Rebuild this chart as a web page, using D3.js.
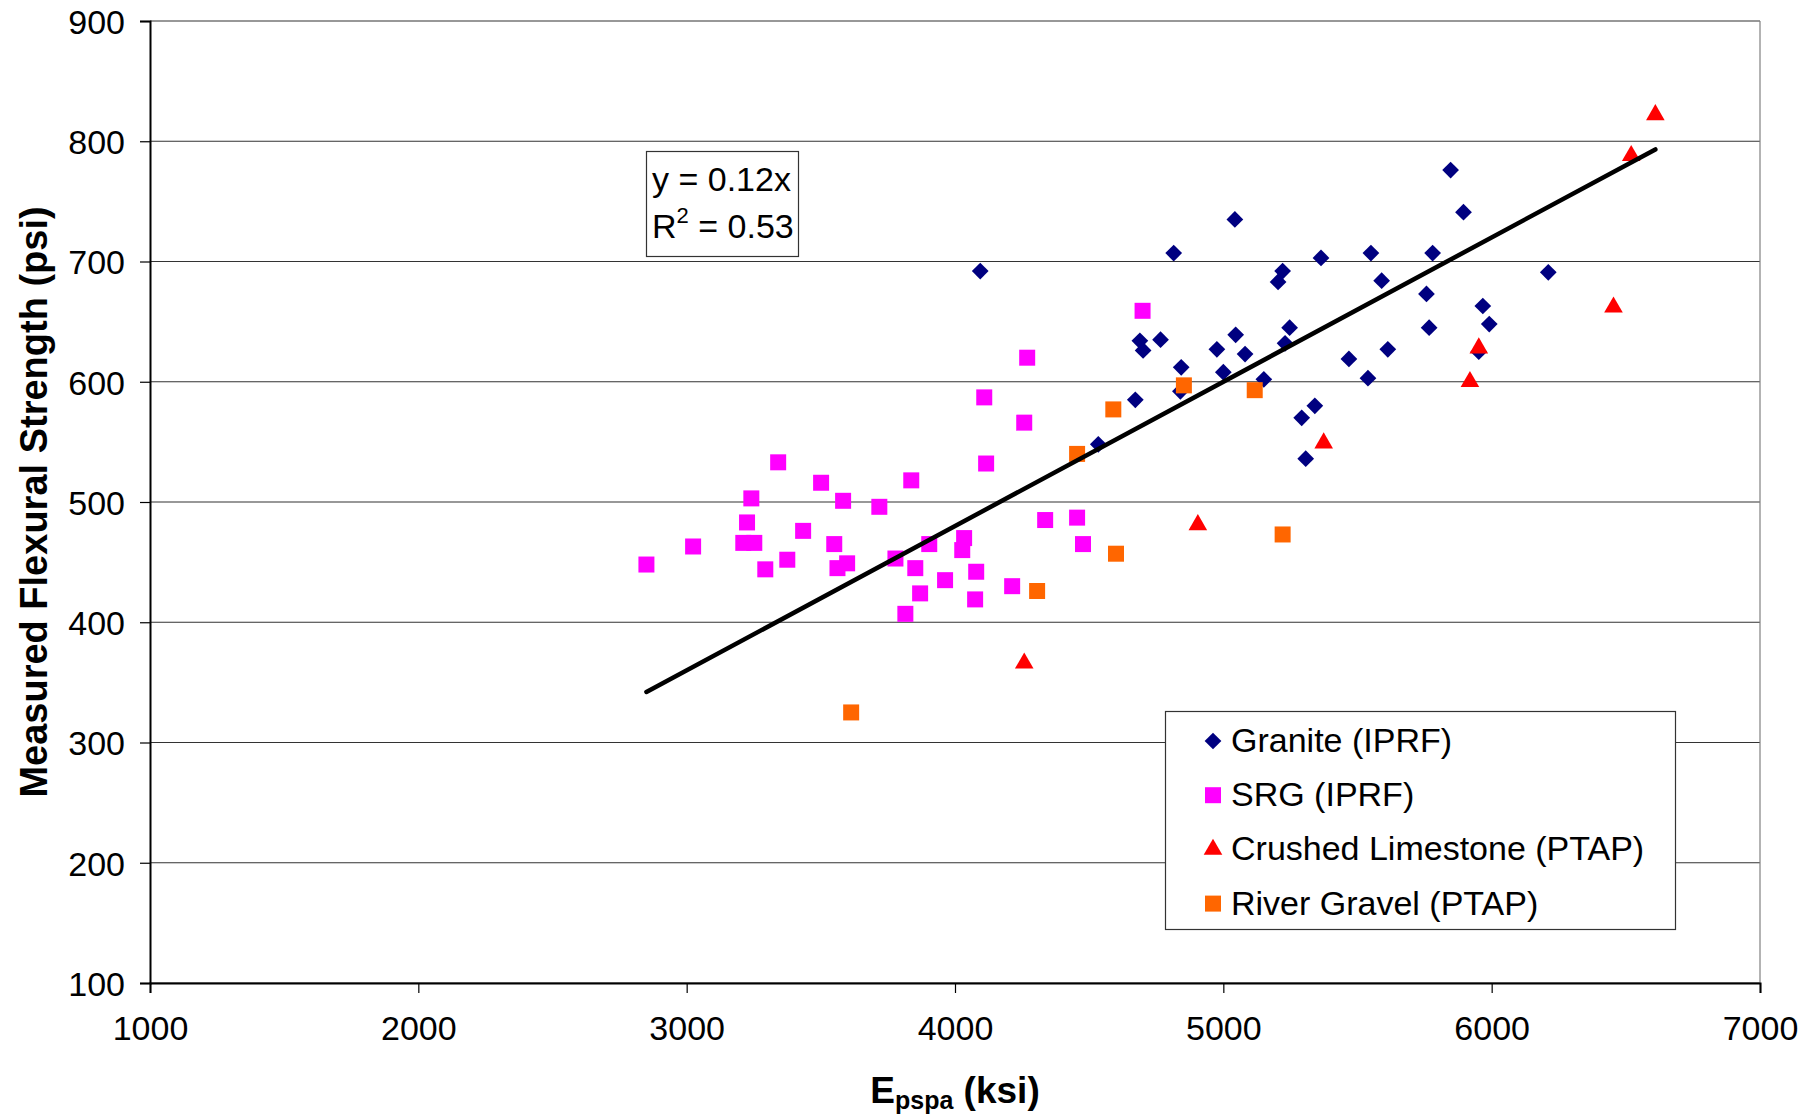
<!DOCTYPE html>
<html lang="en">
<head>
<meta charset="UTF-8">
<title>Measured Flexural Strength vs Epspa</title>
<style>
  body, html { margin: 0; padding: 0; background: #fff; overflow: hidden; }
  svg text { font-family: "Liberation Sans", Arial, sans-serif; fill: #000; }
</style>
</head>
<body>
<div id="chart"></div>
<script src="https://d3js.org/d3.v7.min.js"></script>
<script>
// values
var graniteX = [4094, 4534, 5847, 5895, 5043, 4815, 5364, 5550, 5780, 5221, 5204, 5590, 6211, 5757, 5967, 5991,
                4689, 4701, 4766, 5046, 4976, 5081, 5247, 5230, 5767, 5613, 5952, 4843, 5000, 5468, 5539, 5151,
                4672, 4840, 5341, 5292, 5307];
var graniteY = [692, 548, 776, 741, 735, 707, 703, 707, 707, 692, 683, 684, 691, 673, 663, 648,
                634, 626, 635, 639, 627, 623, 645, 632, 645, 627, 625, 612, 608, 619, 603, 602,
                585, 592, 580, 570, 536];

var srgX = [4269, 4109, 4258, 4116, 3341, 3501, 3837, 3241, 3583, 3718, 3225, 3434, 3024, 3211, 3252, 3550,
            2850, 3375, 3293, 3562, 3598, 3778, 3904, 3852, 4034, 4027, 3963, 4079, 3870, 4075, 4213, 3815,
            4336, 4455, 4477, 4699];
var srgY = [620, 587, 566, 532, 533, 516, 518, 503, 501, 496, 483, 476, 463, 466, 466, 465,
            448, 452, 444, 445, 449, 453, 465, 445, 470, 460, 435, 442, 424, 419, 430, 407,
            485, 487, 465, 659];

var limestoneX = [6610, 6520, 6454, 5952, 5919, 5374, 4905, 4258];
var limestoneY = [822, 788, 662, 628, 600, 549, 481, 366];

var gravelX = [4590, 4455, 4306, 4600, 3613, 4853, 5117, 5221];
var gravelY = [577, 540, 426, 457, 325, 597, 593, 473];

var seriesNames = ["Granite (IPRF)", "SRG (IPRF)", "Crushed Limestone (PTAP)", "River Gravel (PTAP)"];
var seriesColors = ["#000080", "#ff00ff", "#ff0000", "#ff6600"];

var trendSlope = 0.12;
var trendX = [2850, 6610];
var trendText = ["y = 0.12x", "0.53"];

var xTicks = [1000, 2000, 3000, 4000, 5000, 6000, 7000];
var yTicks = [100, 200, 300, 400, 500, 600, 700, 800, 900];

var W = 1818, H = 1117;
var margin = { left: 150, right: 58, top: 21, bottom: 134 };

var svg = d3.select("#chart").append("svg")
  .attr("width", W)
  .attr("height", H);

var x = d3.scaleLinear().domain([1000, 7000]).range([margin.left, W - margin.right]);
var y = d3.scaleLinear().domain([100, 900]).range([H - margin.bottom, margin.top]);

// gridlines
svg.append("g")
  .selectAll("line")
  .data(yTicks)
  .enter().append("line")
  .attr("x1", x(1000)).attr("x2", x(7000))
  .attr("y1", d => y(d)).attr("y2", d => y(d))
  .attr("stroke", "#333")
  .attr("stroke-width", 1.2);

// right border of plot area
svg.append("line")
  .attr("x1", x(7000)).attr("x2", x(7000))
  .attr("y1", y(900)).attr("y2", y(100))
  .attr("stroke", "#808080")
  .attr("stroke-width", 1.2);

// axes
var xAxis = svg.append("g")
  .attr("transform", "translate(0," + y(100) + ")")
  .call(d3.axisBottom(x).tickValues(xTicks).tickSize(10).tickPadding(23).tickFormat(d3.format("d")));
var yAxis = svg.append("g")
  .attr("transform", "translate(" + x(1000) + ",0)")
  .call(d3.axisLeft(y).tickValues(yTicks).tickSize(10).tickPadding(15).tickFormat(d3.format("d")));

[xAxis, yAxis].forEach(function (g) {
  g.select(".domain").attr("stroke", "#000").attr("stroke-width", 2);
  g.selectAll(".tick line").attr("stroke", "#000").attr("stroke-width", 1.2);
  g.selectAll(".tick text")
    .attr("font-size", "34px")
    .attr("font-family", "'Liberation Sans', Arial, sans-serif")
    .attr("fill", "#000");
});
yAxis.selectAll(".tick text").attr("dy", "0.36em");

// markers
var diamond = d3.symbol().type(d3.symbolSquare).size(140);
var square = d3.symbol().type(d3.symbolSquare).size(256);
var triangle = d3.symbol().type(d3.symbolTriangle).size(150);

function drawSeries(xs, ys, path, color, rotate) {
  svg.append("g")
    .selectAll("path")
    .data(xs.map((v, i) => [v, ys[i]]))
    .enter().append("path")
    .attr("d", path)
    .attr("fill", color)
    .attr("transform", d => "translate(" + x(d[0]) + "," + y(d[1]) + ")" + (rotate ? " rotate(45)" : ""));
}

drawSeries(graniteX, graniteY, diamond, seriesColors[0], true);
drawSeries(srgX, srgY, square, seriesColors[1], false);
drawSeries(limestoneX, limestoneY, triangle, seriesColors[2], false);
drawSeries(gravelX, gravelY, square, seriesColors[3], false);

// linear trendline through origin
svg.append("line")
  .attr("x1", x(trendX[0])).attr("y1", y(trendSlope * trendX[0]))
  .attr("x2", x(trendX[1])).attr("y2", y(trendSlope * trendX[1]))
  .attr("stroke", "#000")
  .attr("stroke-width", 4.5)
  .attr("stroke-linecap", "round");

// equation box
svg.append("rect")
  .attr("x", 646.5).attr("y", 151.5)
  .attr("width", 152).attr("height", 105)
  .attr("fill", "#fff")
  .attr("stroke", "#333")
  .attr("stroke-width", 1.2);
svg.append("text")
  .attr("x", 652).attr("y", 191)
  .attr("font-size", "34px")
  .text(trendText[0]);
var r2 = svg.append("text")
  .attr("x", 652).attr("y", 238)
  .attr("font-size", "34px");
r2.append("tspan").text("R");
r2.append("tspan").attr("font-size", "22px").attr("dy", -15).text("2");
r2.append("tspan").attr("dy", 15).text(" = " + trendText[1]);

// legend
var legend = svg.append("g");
legend.append("rect")
  .attr("x", 1165.5).attr("y", 711.5)
  .attr("width", 510).attr("height", 218)
  .attr("fill", "#fff")
  .attr("stroke", "#333")
  .attr("stroke-width", 1.2);

var legendMarks = [diamond, square, triangle, square];
seriesNames.forEach(function (name, i) {
  var cy = 741 + i * 54.2;
  legend.append("path")
    .attr("d", legendMarks[i])
    .attr("fill", seriesColors[i])
    .attr("transform", "translate(1213," + cy + ")" + (i === 0 ? " rotate(45)" : ""));
  legend.append("text")
    .attr("x", 1231)
    .attr("y", cy + 11)
    .attr("font-size", "34px")
    .text(name);
});

// axis titles
var xt = svg.append("text")
  .attr("x", (x(1000) + x(7000)) / 2)
  .attr("y", 1103)
  .attr("text-anchor", "middle")
  .attr("font-size", "37px")
  .attr("font-weight", "bold");
xt.append("tspan").text("E");
xt.append("tspan").attr("font-size", "25px").attr("dy", 6).text("pspa");
xt.append("tspan").attr("dy", -6).text(" (ksi)");

svg.append("text")
  .attr("transform", "translate(47," + (y(100) + y(900)) / 2 + ") rotate(-90)")
  .attr("text-anchor", "middle")
  .attr("font-size", "38px")
  .attr("font-weight", "bold")
  .text("Measured Flexural Strength (psi)");
</script>
</body>
</html>
